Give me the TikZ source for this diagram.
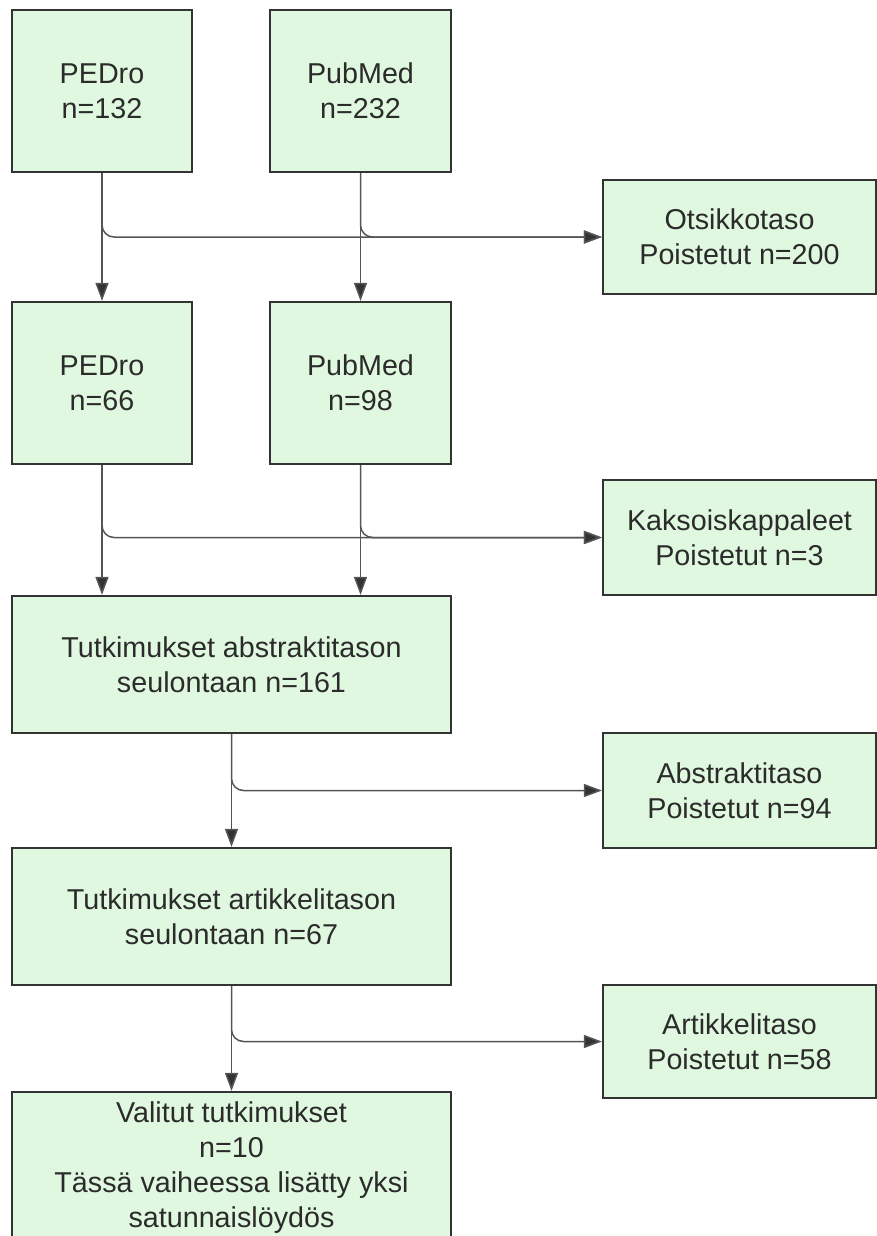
\documentclass[tikz,border=0pt]{standalone}
\usepackage{fontspec}
\setmainfont{Liberation Sans}
\usetikzlibrary{arrows.meta}
\definecolor{boxfill}{HTML}{E0F8E0}
\definecolor{boxline}{HTML}{333333}
\definecolor{linegray}{HTML}{555555}
\definecolor{textgray}{HTML}{2B2B2B}
\begin{document}
\begin{tikzpicture}[x=1pt, y=-1pt,
    box/.style={draw=boxline, fill=boxfill, line width=2.2pt, align=center,
        text=textgray, font=\fontsize{28.7}{35}\selectfont, inner sep=0pt},
    flow/.style={draw=linegray, line width=1.5pt, rounded corners=12pt,
        -{Triangle[length=18pt,width=13pt,fill=boxline]}}]
    \useasboundingbox (0,0) rectangle (877,1236);

    \node[box, minimum width=180, minimum height=162] (pe1) at (102,91) {PEDro\\n=132};
    \node[box, minimum width=181, minimum height=162] (pm1) at (360.5,91) {PubMed\\n=232};
    \node[box, minimum width=273, minimum height=114] (ots) at (739.5,237) {Otsikkotaso\\Poistetut n=200};
    \node[box, minimum width=180, minimum height=162] (pe2) at (102,383) {PEDro\\n=66};
    \node[box, minimum width=181, minimum height=162] (pm2) at (360.5,383) {PubMed\\n=98};
    \node[box, minimum width=273, minimum height=115] (kak) at (739.5,537.5) {Kaksoiskappaleet\\Poistetut n=3};
    \node[box, minimum width=439, minimum height=137] (abs) at (231.5,664.5) {Tutkimukset abstraktitason\\seulontaan n=161};
    \node[box, minimum width=273, minimum height=115] (absp) at (739.5,790.5) {Abstraktitaso\\Poistetut n=94};
    \node[box, minimum width=439, minimum height=137] (art) at (231.5,916.5) {Tutkimukset artikkelitason\\seulontaan n=67};
    \node[box, minimum width=273, minimum height=113] (artp) at (739.5,1041.5) {Artikkelitaso\\Poistetut n=58};
    \node[box, minimum width=439, minimum height=152] (val) at (231.5,1168) {Valitut tutkimukset\\n=10\\Tässä vaiheessa lisätty yksi\\satunnaislöydös};

    % otsikkotaso
    \draw[flow] (pe1.south) |- (ots.west);
    \draw[flow] (pm1.south) |- (ots.west);
    \draw[flow] (pe1) -- (pe2);
    \draw[flow] (pm1) -- (pm2);

    % kaksoiskappaleet
    \draw[flow] (pe2.south) |- (kak.west);
    \draw[flow] (pm2.south) |- (kak.west);
    \draw[flow] (pe2.south) -- (pe2.south |- abs.north);
    \draw[flow] (pm2.south) -- (pm2.south |- abs.north);

    % abstraktit ja artikkelit
    \draw[flow] (abs.south) |- (absp.west);
    \draw[flow] (abs) -- (art);
    \draw[flow] (art.south) |- (artp.west);
    \draw[flow] (art) -- (val);
\end{tikzpicture}
\end{document}
